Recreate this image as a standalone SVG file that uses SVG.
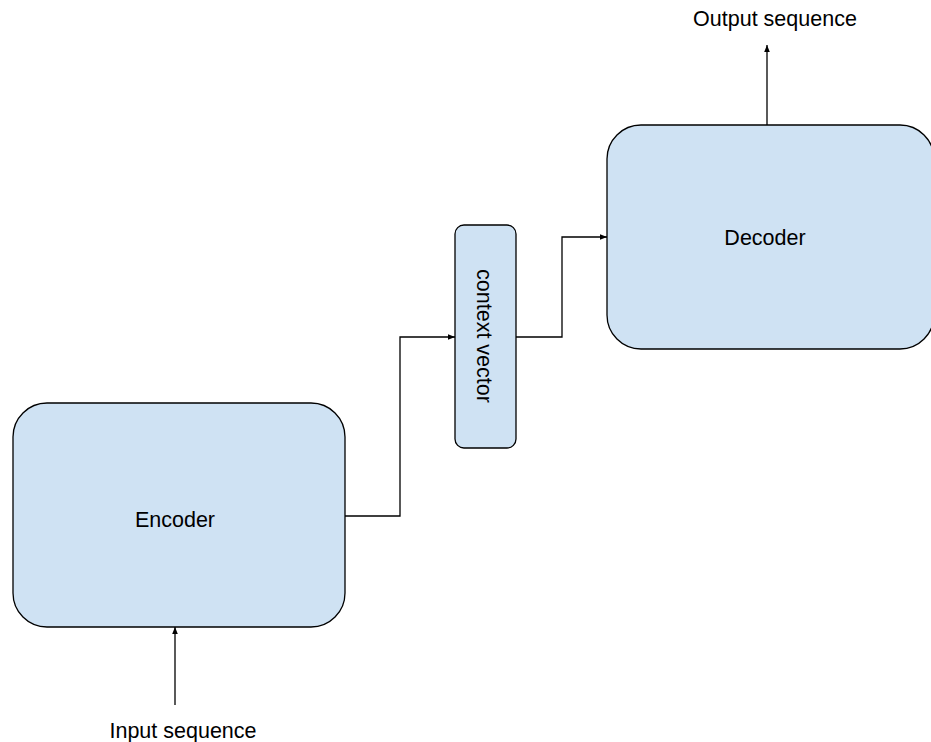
<svg xmlns="http://www.w3.org/2000/svg" width="931" height="742" viewBox="0 0 931 742">
  <style>
    .box { fill: #cfe2f3; stroke: #000; stroke-width: 1.3; }
    .lbl { font-family: "Liberation Sans", Arial, sans-serif; font-size: 21.5px; fill: #000; }
    .wire { fill: none; stroke: #000; stroke-width: 1.3; }
  </style>
  <defs>
    <marker id="arrow" viewBox="0 0 10 10" refX="10" refY="5" markerWidth="7" markerHeight="7" markerUnits="userSpaceOnUse" orient="auto">
      <path d="M0,1 L10,5 L0,9 Z" fill="#000"/>
    </marker>
  </defs>
  <rect width="931" height="742" fill="#fff"/>

  <g id="connectors">
    <path class="wire" d="M345,516 H400 V337 H455" marker-end="url(#arrow)"/>
    <path class="wire" d="M516,337 H562 V237 H607" marker-end="url(#arrow)"/>
    <path class="wire" d="M767,125 V45" marker-end="url(#arrow)"/>
    <path class="wire" d="M175,705 V627" marker-end="url(#arrow)"/>
  </g>

  <g id="encoder">
    <rect class="box" x="13" y="403" width="332" height="224" rx="34" ry="34"/>
    <text class="lbl" x="175" y="527" text-anchor="middle">Encoder</text>
  </g>

  <g id="context-vector">
    <rect class="box" x="455" y="225" width="61" height="223" rx="9" ry="9"/>
    <text class="lbl" x="0" y="0" text-anchor="middle" transform="translate(477,336) rotate(90)">context vector</text>
  </g>

  <g id="decoder">
    <rect class="box" x="607" y="125" width="327" height="224" rx="34" ry="34"/>
    <text class="lbl" x="765" y="245" text-anchor="middle">Decoder</text>
  </g>

  <g id="output-label">
    <text class="lbl" x="775" y="26" text-anchor="middle">Output sequence</text>
  </g>

  <g id="input-label">
    <text class="lbl" x="183" y="738" text-anchor="middle">Input sequence</text>
  </g>
</svg>
